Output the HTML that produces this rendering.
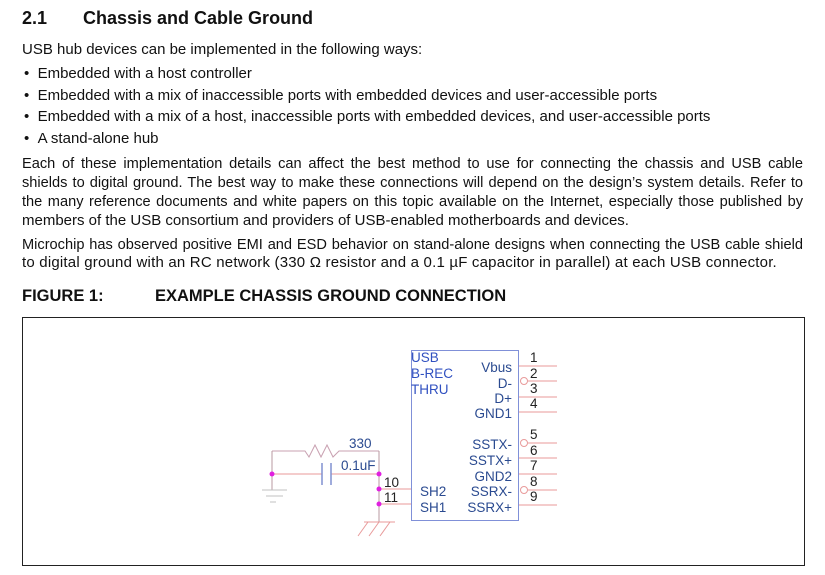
<!DOCTYPE html>
<html><head><meta charset="utf-8"><style>
body{margin:0;width:825px;height:575px;background:#fff;position:relative;overflow:hidden;font-family:"Liberation Sans",Arial,sans-serif;color:#111}
.t{position:absolute;font-size:15px;line-height:16px;white-space:nowrap}
.j{position:absolute;left:22px;width:781px;font-size:14.6px;line-height:16px;text-align:justify;text-align-last:justify;white-space:nowrap}
.b{font-weight:bold}
</style></head><body>
<div class="t b" style="left:22px;top:8px;font-size:18px;line-height:20px">2.1</div>
<div class="t b" style="left:83px;top:8px;font-size:18px;line-height:20px">Chassis and Cable Ground</div>
<div class="t" style="left:22px;top:42px">USB hub devices can be implemented in the following ways:</div>
<div class="t" style="left:24px;top:66px">•&nbsp;&nbsp;Embedded with a host controller</div>
<div class="t" style="left:24px;top:88px">•&nbsp;&nbsp;Embedded with a mix of inaccessible ports with embedded devices and user-accessible ports</div>
<div class="t" style="left:24px;top:109px">•&nbsp;&nbsp;Embedded with a mix of a host, inaccessible ports with embedded devices, and user-accessible ports</div>
<div class="t" style="left:24px;top:131px">•&nbsp;&nbsp;A stand-alone hub</div>
<div class="j" style="top:156px">Each of these implementation details can affect the best method to use for connecting the chassis and USB cable</div>
<div class="j" style="top:175px">shields to digital ground. The best way to make these connections will depend on the design’s system details. Refer to</div>
<div class="j" style="top:194px">the many reference documents and white papers on this topic available on the Internet, especially those published by</div>
<div class="t" style="left:22px;top:213px">members of the USB consortium and providers of USB-enabled motherboards and devices.</div>
<div class="j" style="top:237px">Microchip has observed positive EMI and ESD behavior on stand-alone designs when connecting the USB cable shield</div>
<div class="t" style="left:22px;top:255px;letter-spacing:0.2px">to digital ground with an RC network (330 Ω resistor and a 0.1 µF capacitor in parallel) at each USB connector.</div>
<div class="t b" style="left:22px;top:288px;font-size:16.5px">FIGURE 1:</div>
<div class="t b" style="left:155px;top:288px;font-size:16.5px">EXAMPLE CHASSIS GROUND CONNECTION</div>
<div style="position:absolute;left:22px;top:317px;width:781px;height:247px;border:1px solid #222"></div>
<svg style="position:absolute;left:0;top:0" width="825" height="575" font-family="Liberation Sans,Arial,sans-serif" font-size="13.5">
<g stroke="#e89a9a" stroke-width="1" fill="none">
<line x1="519" y1="366" x2="557" y2="366"/><line x1="528" y1="381" x2="557" y2="381"/>
<line x1="519" y1="397" x2="557" y2="397"/><line x1="519" y1="412" x2="557" y2="412"/>
<line x1="528" y1="443" x2="557" y2="443"/><line x1="519" y1="458" x2="557" y2="458"/>
<line x1="519" y1="474" x2="557" y2="474"/><line x1="528" y1="490" x2="557" y2="490"/>
<line x1="519" y1="505" x2="557" y2="505"/>
<circle cx="524" cy="381" r="3.5"/><circle cx="524" cy="443" r="3.5"/><circle cx="524" cy="490" r="3.5"/>
<line x1="379" y1="489" x2="411" y2="489"/><line x1="379" y1="504" x2="411" y2="504"/>
<polyline points="272,451 305,451 309,457 315,445 321,457 327,445 333,457 339,451 379,451" stroke="#c8a0b0"/>
<line x1="272" y1="474" x2="322" y2="474"/><line x1="331" y1="474" x2="379" y2="474"/>
<line x1="272" y1="451" x2="272" y2="490" stroke="#b89aa0"/>
<line x1="379" y1="451" x2="379" y2="522" stroke="#b89aa0"/>
<line x1="262" y1="490" x2="287" y2="490" stroke="#c0c0c0"/><line x1="266" y1="496" x2="283" y2="496" stroke="#c0c0c0"/><line x1="270" y1="502" x2="276" y2="502" stroke="#c0c0c0"/>
<line x1="364" y1="522" x2="395" y2="522"/><line x1="368" y1="522" x2="358" y2="536"/><line x1="379" y1="522" x2="369" y2="536"/><line x1="390" y1="522" x2="380" y2="536"/>
</g>
<g stroke="#8090d0" stroke-width="1.5"><line x1="322" y1="463" x2="322" y2="485"/><line x1="331" y1="463" x2="331" y2="485"/></g>
<rect x="411.5" y="350.5" width="107" height="170" fill="none" stroke="#8090d8"/>
<g fill="#e020e0"><circle cx="272" cy="474" r="2.5"/><circle cx="379" cy="474" r="2.5"/><circle cx="379" cy="489" r="2.5"/><circle cx="379" cy="504" r="2.5"/></g>
<g fill="#2a4a90">
<text x="411" y="362" fill="#3050c0">USB</text><text x="411" y="378" fill="#3050c0">B-REC</text><text x="411" y="394" fill="#3050c0">THRU</text>
<g text-anchor="end"><text x="512" y="372">Vbus</text><text x="512" y="388">D-</text><text x="512" y="403">D+</text><text x="512" y="418">GND1</text>
<text x="512" y="449">SSTX-</text><text x="512" y="465">SSTX+</text><text x="512" y="481">GND2</text><text x="512" y="496">SSRX-</text><text x="512" y="512">SSRX+</text></g>
<text x="420" y="496">SH2</text><text x="420" y="512">SH1</text>
<text x="349" y="448">330</text><text x="341" y="470">0.1uF</text>
</g>
<g fill="#222"><text x="530" y="362">1</text><text x="530" y="378">2</text><text x="530" y="393">3</text><text x="530" y="408">4</text>
<text x="530" y="439">5</text><text x="530" y="455">6</text><text x="530" y="470">7</text><text x="530" y="486">8</text><text x="530" y="501">9</text>
<text x="384" y="487">10</text><text x="384" y="502">11</text></g>
</svg>
</body></html>
